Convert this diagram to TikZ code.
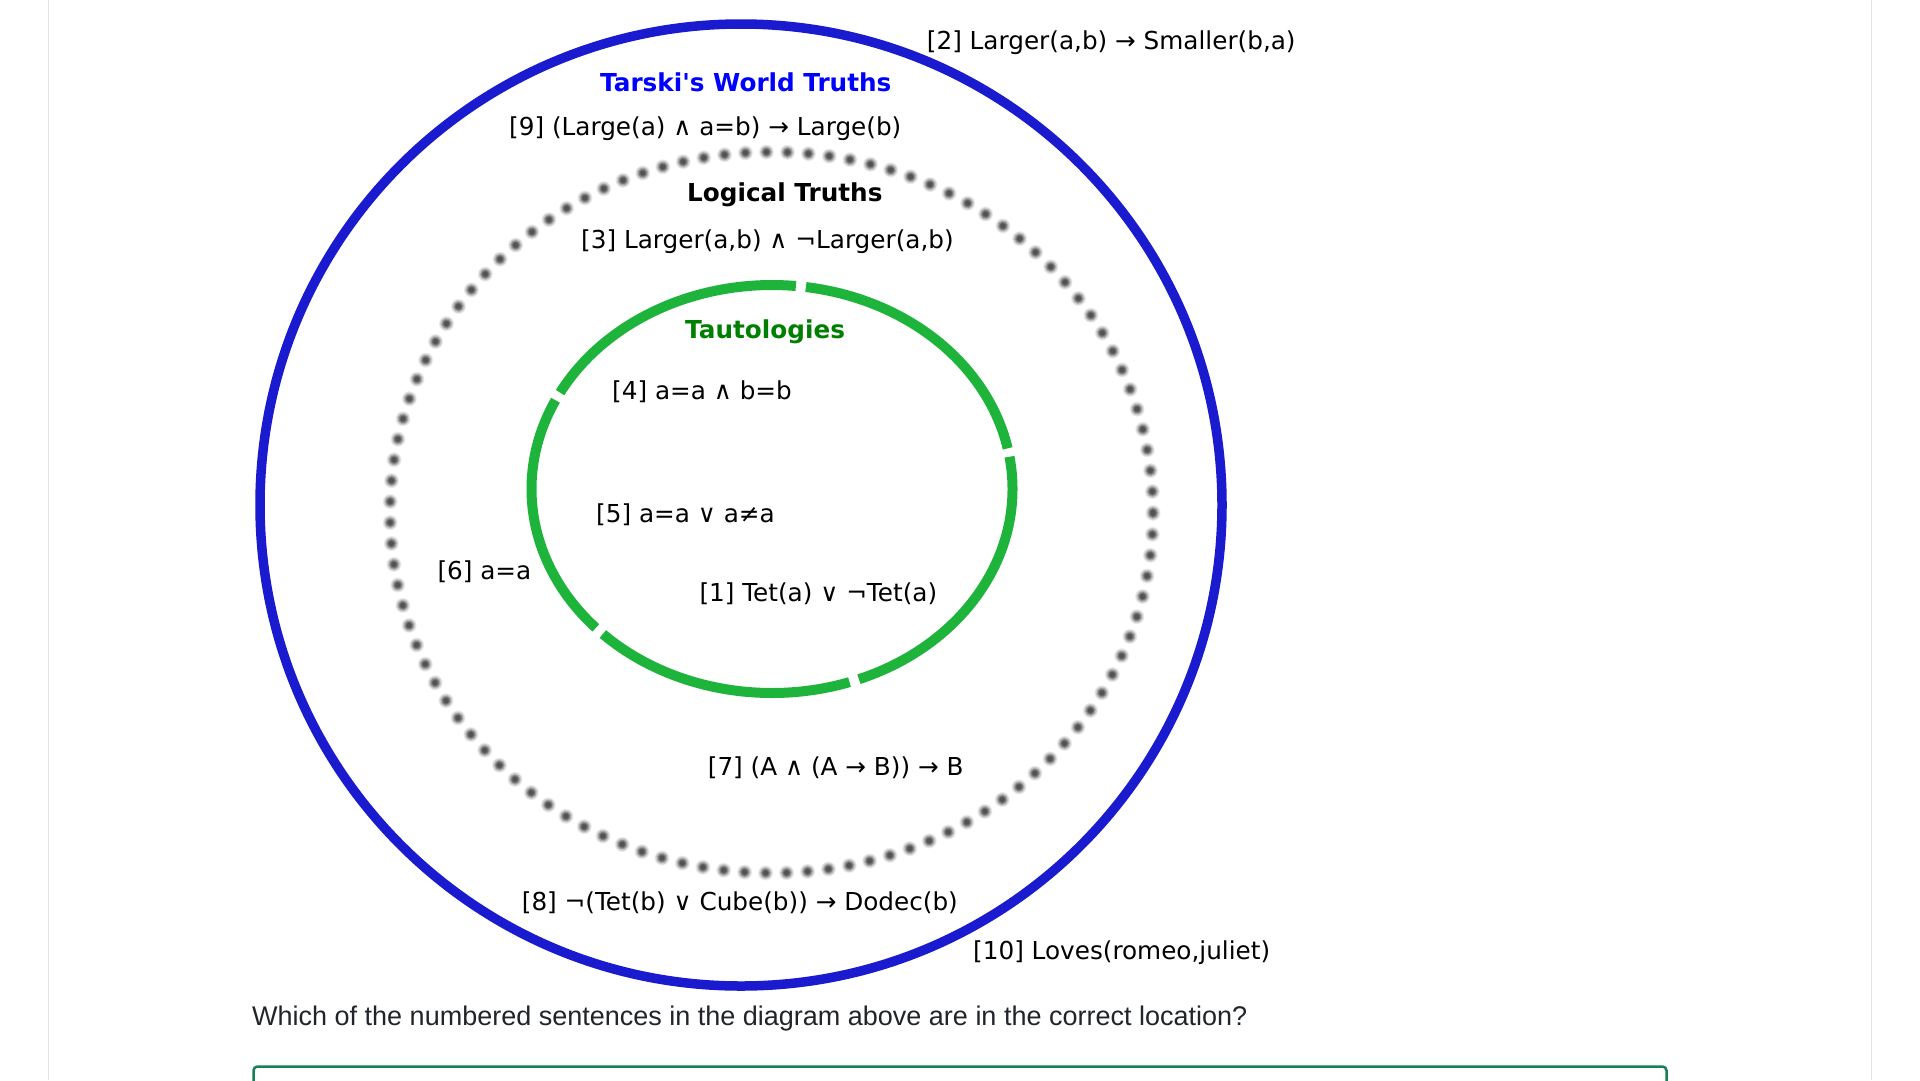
\documentclass[tikz,border=0pt]{standalone}
\usepackage{fontspec}
\setmainfont{DejaVu Sans}
\newfontfamily\qfont{Liberation Sans}
\definecolor{outerblue}{RGB}{26,26,206}
\definecolor{titleblue}{RGB}{0,0,255}
\definecolor{titlegreen}{RGB}{0,128,0}
\definecolor{ringgreen}{RGB}{30,180,60}
\definecolor{boxgreen}{RGB}{25,128,84}
\definecolor{pageline}{RGB}{228,228,228}
\definecolor{bodytext}{RGB}{33,37,41}
\begin{document}
\begin{tikzpicture}[x=1pt,y=1pt,
  lbl/.style={anchor=base west, inner sep=0pt, font=\fontsize{24.7}{29}\selectfont},
  ttl/.style={anchor=base west, inner sep=0pt, font=\fontsize{24.7}{29}\selectfont\bfseries},
  bluering/.style={draw=outerblue, line width=9.5pt},
  tautring/.style={draw=ringgreen, line width=10pt},
  borderline/.style={draw=pageline, line width=1.3pt}]
\path[use as bounding box, clip] (0,0) rectangle (1920,-1080);
\fill[white] (0,0) rectangle (1920,-1080);
% page borders
\coordinate (bl1) at (48.3,0); \coordinate (bl2) at (48.3,-1080);
\coordinate (br1) at (1871.7,0); \coordinate (br2) at (1871.7,-1080);
\draw[borderline] (bl1) -- (bl2);
\draw[borderline] (br1) -- (br2);
% outer circle
\draw[bluering] (741,-505) circle[radius=481pt];
% dotted blurred ring (layered round dots to imitate the blur)
\foreach \w/\c in {15/black!8, 13/black!18, 11/black!32, 9/black!46, 7/black!58, 5/black!68}{
  \draw[line width=\w pt, \c, line cap=round, dash pattern=on 0.01pt off 20.99pt]
    (771.5,-512.5) ellipse[x radius=381.5pt, y radius=360.5pt];
}
% tautology ring with small gaps
\foreach \a/\b in {11.5/81.9, 84.3/151.8, 154.2/222.9, 225.3/288.8, 291.2/369.1}{
  \draw[tautring] (772,-489) ++(\a:240.5pt and 204pt)
    arc[start angle=\a, end angle=\b, x radius=240.5pt, y radius=204pt];
}
% titles
\node[ttl, text=titleblue] (tw) at (600,-91) {Tarski\textquotesingle s World Truths};
\node[ttl] (lt) at (687,-201) {Logical Truths};
\node[ttl, text=titlegreen] (ta) at (685,-338.5) {Tautologies};
% sentences
\node[lbl] (s2) at (926.7,-49) {[2] Larger(a,b) → Smaller(b,a)};
\node[lbl] (s9) at (509,-135) {[9] (Large(a) ∧ a=b) → Large(b)};
\node[lbl] (s3) at (581,-248) {[3] Larger(a,b) ∧ ¬Larger(a,b)};
\node[lbl] (s4) at (612,-399.5) {[4] a=a ∧ b=b};
\node[lbl] (s5) at (596,-522.7) {[5] a=a ∨ a≠a};
\node[lbl] (s1) at (699.3,-601.7) {[1] Tet(a) ∨ ¬Tet(a)};
\node[lbl] (s6) at (437.3,-579) {[6] a=a};
\node[lbl] (s7) at (707.7,-775) {[7] (A ∧ (A → B)) → B};
\node[lbl] (s8) at (521.7,-910) {[8] ¬(Tet(b) ∨ Cube(b)) → Dodec(b)};
\node[lbl] (s10) at (973,-959) {[10] Loves(romeo,juliet)};
% question
\node[anchor=base west, inner sep=0pt, text=bodytext, font=\qfont\fontsize{27}{32}\selectfont] (q) at (252,-1025) {Which of the numbered sentences in the diagram above are in the correct location?};
% answer box (top part visible)
\draw[draw=boxgreen, line width=2.5pt, rounded corners=4pt] (253.5,-1120) -- (253.5,-1066.5) -- (1666.5,-1066.5) -- (1666.5,-1120);
\end{tikzpicture}
\end{document}
